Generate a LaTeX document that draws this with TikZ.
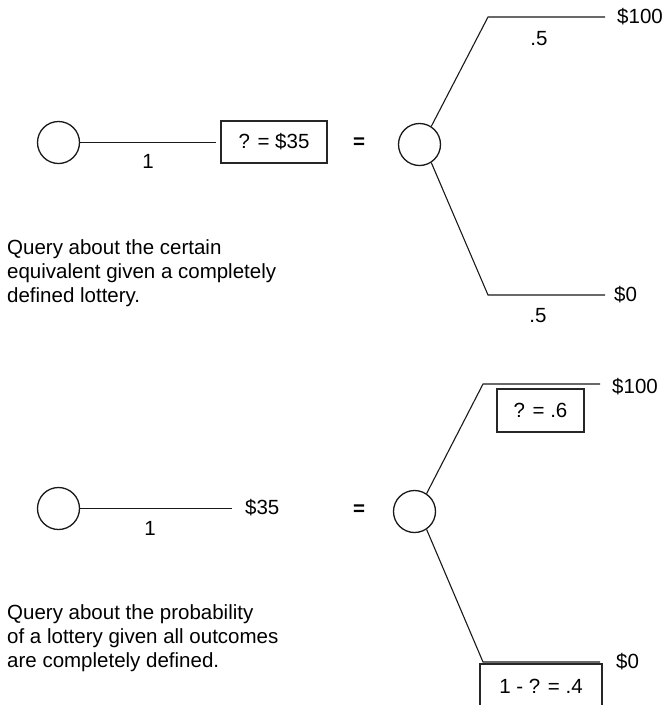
\documentclass[tikz,border=0pt]{standalone}
\usepackage{fontspec}
\setmainfont{Liberation Sans}
\begin{document}
\begin{tikzpicture}[x=1pt,y=-1pt,
  font=\fontsize{20.5}{24}\selectfont,
  chance/.style={circle,draw=black!90,line width=1.3pt,minimum size=42pt,inner sep=0pt},
  branch/.style={draw=black!90,line width=1.1pt},
  lbl/.style={inner sep=0pt},
  qbox/.style={draw=black!85,line width=1.2pt,inner sep=0pt},
  caption/.style={inner sep=0pt,anchor=base west},
  eq/.style={inner sep=0pt,font=\fontsize{20.5}{24}\selectfont\bfseries}]
\useasboundingbox (0,0) rectangle (662,705);
\clip (0,0) rectangle (662,705);
% ---------- top ----------
\node[chance] (c1) at (58.5,142.5) {};
\coordinate (e1) at (216,142.5);
\draw[branch] (c1.east) -- (e1);
\node[qbox,minimum width=106pt,minimum height=42pt] (b1) at (274,142) {? = \$35};
\node[lbl] (p1) at (148,161) {1};
\node[eq] (eq1) at (359,143) {=};
\node[chance] (r1) at (419.5,144.5) {};
\coordinate (t1) at (488,17);
\coordinate (t1e) at (605,17);
\draw[branch] (r1.57) -- (t1) -- (t1e);
\node[lbl,anchor=west] (v1) at (617,17) {\$100};
\node[lbl] (q1) at (539,39) {.5};
\coordinate (u1) at (488,295);
\coordinate (u1e) at (605,295);
\draw[branch] (r1.-57) -- (u1) -- (u1e);
\node[lbl,anchor=west] (z1) at (614,295) {\$0};
\node[lbl] (q2) at (538,316) {.5};
\node[caption] (k1) at (7,254) {Query about the certain};
\node[caption] (k2) at (7,278) {equivalent given a completely};
\node[caption] (k3) at (7,302) {defined lottery.};
% ---------- bottom ----------
\node[chance] (c2) at (58.5,508.5) {};
\coordinate (e2) at (232,508.5);
\draw[branch] (c2.east) -- (e2);
\node[lbl,anchor=west] (v3) at (245,508) {\$35};
\node[lbl] (p2) at (150,528) {1};
\node[eq] (eq2) at (359,510) {=};
\node[chance] (r2) at (414.5,511.5) {};
\coordinate (t2) at (483,384);
\coordinate (t2e) at (600,384);
\draw[branch] (r2.56) -- (t2) -- (t2e);
\node[lbl,anchor=west] (v4) at (612,387) {\$100};
\node[qbox,minimum width=87pt,minimum height=43pt] (b2) at (540.5,410.5) {? = .6};
\coordinate (u2) at (483,662);
\coordinate (u2e) at (600,662);
\draw[branch] (r2.-56) -- (u2) -- (u2e);
\node[lbl,anchor=west] (z2) at (616,662) {\$0};
\node[qbox,minimum width=122pt,minimum height=44pt] (b3) at (541,686) {1 - ? = .4};
\node[caption] (k4) at (7,619) {Query about the probability};
\node[caption] (k5) at (7,643) {of a lottery given all outcomes};
\node[caption] (k6) at (7,667) {are completely defined.};
\end{tikzpicture}
\end{document}
